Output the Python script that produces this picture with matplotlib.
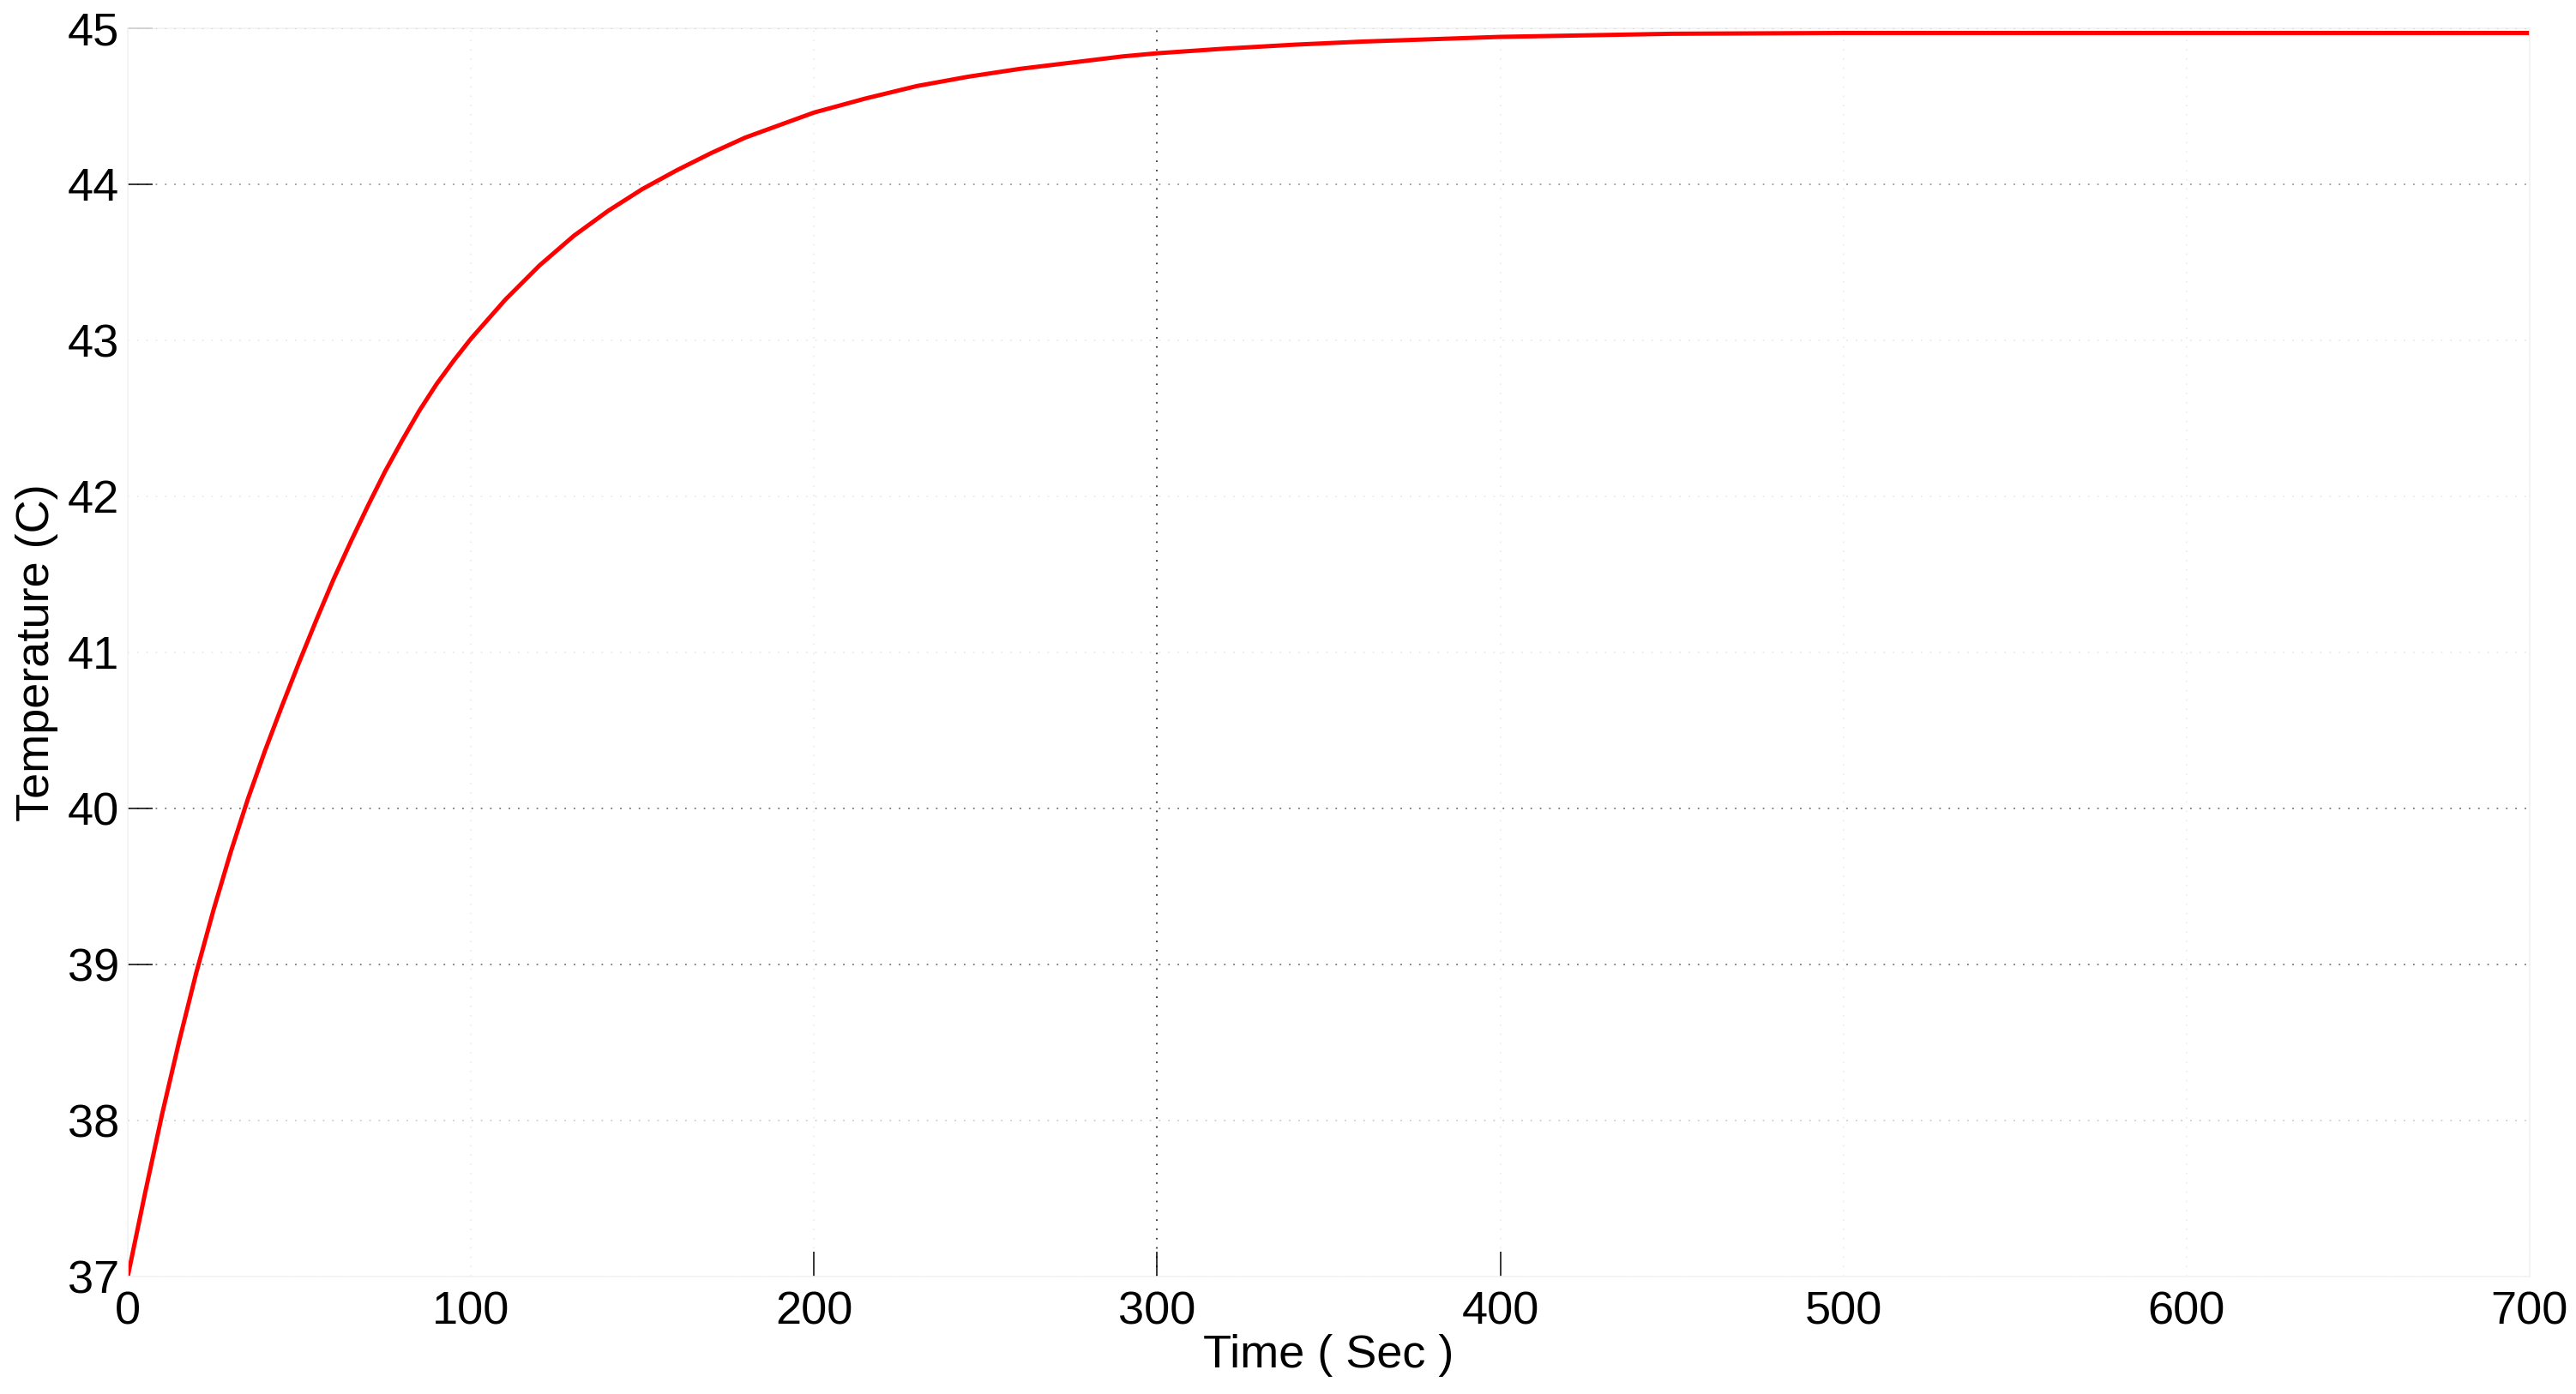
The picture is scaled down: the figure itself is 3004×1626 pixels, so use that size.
import matplotlib
matplotlib.use("Agg")
import matplotlib.pyplot as plt

# values
time_s = [0, 5, 10, 15, 20, 25, 30, 35, 40, 45, 50, 55, 60, 65, 70, 75,
          80, 85, 90, 95, 100, 110, 120, 130, 140, 150, 160, 170, 180,
          190, 200, 215, 230, 245, 260, 275, 290, 300, 320, 340, 360, 380,
          400, 425, 450, 500, 600, 700]
temp_c = [37.00, 37.53, 38.04, 38.51, 38.95, 39.35, 39.72, 40.06, 40.37,
          40.66, 40.94, 41.21, 41.47, 41.71, 41.94, 42.16, 42.36, 42.55,
          42.72, 42.87, 43.01, 43.26, 43.48, 43.67, 43.83, 43.97, 44.09,
          44.20, 44.30, 44.38, 44.46, 44.55, 44.63, 44.69, 44.74, 44.78,
          44.82, 44.84, 44.87, 44.895, 44.915, 44.93, 44.945, 44.955,
          44.965, 44.97, 44.97, 44.97]

x_ticks = [0, 100, 200, 300, 400, 500, 600, 700]
y_ticks = [37, 38, 39, 40, 41, 42, 43, 44, 45]

plt.rcParams['font.family'] = ['Liberation Sans', 'DejaVu Sans']

fig = plt.figure(figsize=(30.04, 16.26), dpi=100)
ax = fig.add_axes([0.0496, 0.0843, 0.9324, 0.8954])

ax.plot(time_s, temp_c, color='#ff0000', linewidth=3.6,
        solid_joinstyle='round')

ax.set_xlim(0, 700)
ax.set_ylim(37, 45)
ax.set_xticks(x_ticks)
ax.set_yticks(y_ticks)
ax.tick_params(axis='both', direction='in', length=21, width=1.1,
               labelsize=39, color='black')
ax.tick_params(axis='x', pad=12)
ax.tick_params(axis='y', pad=7)

# dotted grid, most lines very faint as in the scanned original
ax.grid(True, linestyle=(0, (1, 5)), linewidth=1.3, color='#e6e6e6')
ygrid_col = {45: '#333333', 44: '#9a9a9a', 40: '#7a7a7a', 39: '#7a7a7a',
             38: '#cfcfcf'}
for val, gl in zip(y_ticks, ax.yaxis.get_gridlines()):
    gl.set_color(ygrid_col.get(val, '#ebebeb'))
xgrid_col = {300: '#333333', 700: '#d9d9d9'}
for val, gl in zip(x_ticks, ax.xaxis.get_gridlines()):
    gl.set_color(xgrid_col.get(val, '#eeeeee'))

# only some tick marks survive in the original
for val, t in zip(y_ticks, ax.yaxis.get_major_ticks()):
    t.tick2line.set_visible(False)
    if val not in (39, 40, 44, 45):
        t.tick1line.set_visible(False)
for val, t in zip(x_ticks, ax.xaxis.get_major_ticks()):
    t.tick2line.set_visible(False)
    if val not in (200, 300, 400):
        t.tick1line.set_visible(False)

for sp in ax.spines.values():
    sp.set_color('#f2f2f2')
    sp.set_linewidth(1.2)

ax.set_xlabel('Time ( Sec )', fontsize=39)
ax.set_ylabel('Temperature (C)', fontsize=39)
ax.xaxis.set_label_coords(0.5, -0.046)
ax.yaxis.set_label_coords(-0.029, 0.5)

fig.savefig('out.png', dpi=100, facecolor='white')
